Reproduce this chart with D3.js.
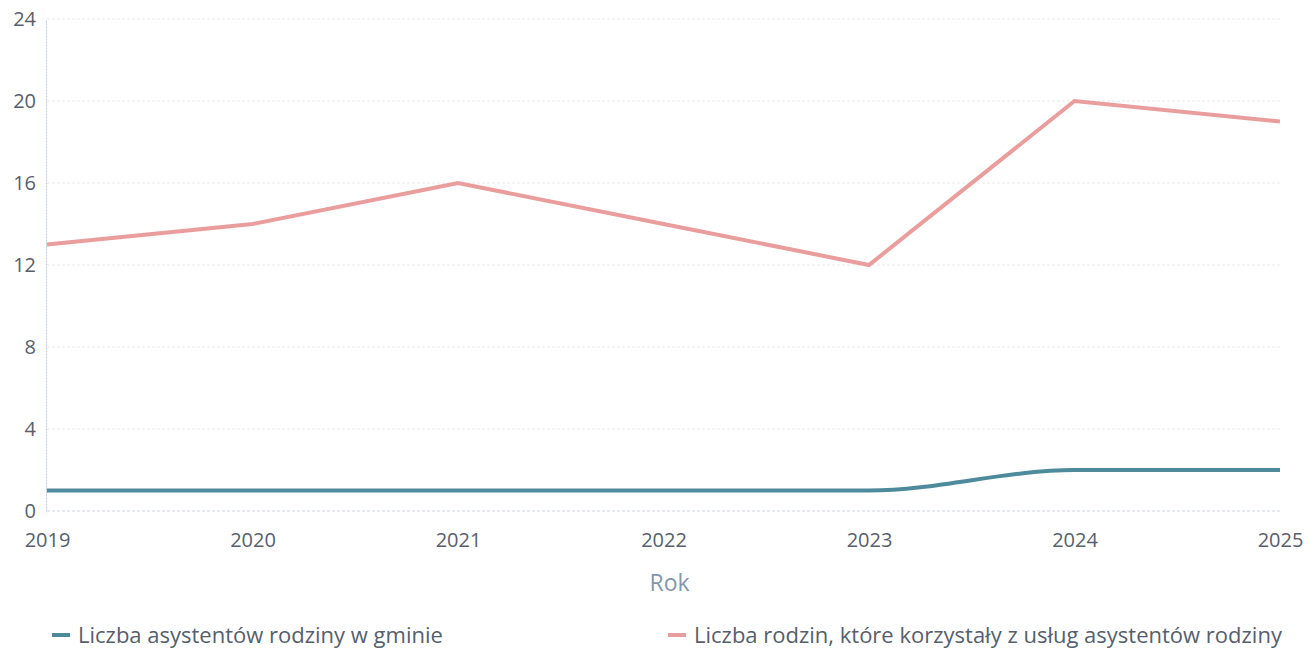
<!DOCTYPE html>
<html>
<head>
<meta charset="utf-8">
<script src="https://cdn.jsdelivr.net/npm/d3@7"></script>
<style>
	body { margin: 0; background: #fff; }
	svg { display: block; font-family: "Open Sans", sans-serif; }
</style>
</head>
<body>
<svg width="1316" height="650"></svg>
<script>
var years = [2019, 2020, 2021, 2022, 2023, 2024, 2025];
var assistants = [1, 1, 1, 1, 1, 2, 2];
var families = [13, 14, 16, 14, 12, 20, 19];
var yTicks = [0, 4, 8, 12, 16, 20, 24];
var seriesNames = [
	"Liczba asystentów rodziny w gminie",
	"Liczba rodzin, które korzystały z usług asystentów rodziny"
];
var seriesColors = ["#4d8a9c", "#ea9d9d"];

var svg = d3.select("svg"),
	margin = { left: 47, right: 36, top: 19, bottom: 139 },
	width = 1316,
	height = 650;

var x = d3
	.scalePoint()
	.domain(years)
	.range([margin.left, width - margin.right]);

var y = d3
	.scaleLinear()
	.domain([0, 24])
	.range([height - margin.bottom, margin.top]);

// grid
svg
	.append("g")
	.selectAll("line")
	.data(yTicks.filter((d) => d > 0))
	.enter()
	.append("line")
	.attr("x1", margin.left)
	.attr("x2", width - margin.right)
	.attr("y1", (d) => y(d))
	.attr("y2", (d) => y(d))
	.attr("stroke", "#e6e9ee")
	.attr("stroke-width", 1)
	.attr("stroke-dasharray", "3,2");

// left axis
var yAxis = svg
	.append("g")
	.attr("transform", "translate(" + (margin.left - 1) + ",0)")
	.call(d3.axisLeft(y).tickValues(yTicks).tickSize(0).tickPadding(10));
yAxis.select(".domain").attr("stroke", "#b9cde0").attr("stroke-dasharray", "2,1");
yAxis
	.selectAll("text")
	.attr("fill", "#58606b")
	.attr("font-size", 20)
	.attr("font-family", "Open Sans, sans-serif");

// bottom axis
var xAxis = svg
	.append("g")
	.attr("transform", "translate(0," + y(0) + ")")
	.call(d3.axisBottom(x).tickSize(0).tickPadding(22));
xAxis
	.select(".domain")
	.attr("stroke", "#cfd5de")
	.attr("stroke-dasharray", "3,2")
	.attr("d", "M" + margin.left + ",0H" + (width - margin.right));
xAxis
	.selectAll("text")
	.attr("fill", "#58606b")
	.attr("font-size", 20)
	.attr("font-family", "Open Sans, sans-serif");
xAxis.selectAll(".tick text").attr("dy", "0.71em");

svg
	.append("text")
	.attr("x", (margin.left + width - margin.right) / 2 + 6)
	.attr("y", 591)
	.attr("text-anchor", "middle")
	.attr("fill", "#8197ad")
	.attr("font-size", 23)
	.text("Rok");

// lines
var lineSmooth = d3
	.line()
	.x((d, i) => x(years[i]))
	.y((d) => y(d))
	.curve(d3.curveMonotoneX);
var lineStraight = d3
	.line()
	.x((d, i) => x(years[i]))
	.y((d) => y(d));

svg
	.append("path")
	.attr("d", lineStraight(families))
	.attr("fill", "none")
	.attr("stroke", seriesColors[1])
	.attr("stroke-width", 4)
	.attr("stroke-linejoin", "miter");

svg
	.append("path")
	.attr("d", lineSmooth(assistants))
	.attr("fill", "none")
	.attr("stroke", seriesColors[0])
	.attr("stroke-width", 4);

// legend
var legendX = [52, 668];
var legend = svg
	.selectAll(".legend")
	.data(seriesNames)
	.enter()
	.append("g")
	.attr("class", "legend")
	.attr("transform", (d, i) => "translate(" + legendX[i] + ",635)");
legend
	.append("line")
	.attr("x1", 0)
	.attr("x2", 18)
	.attr("stroke", (d, i) => seriesColors[i])
	.attr("stroke-width", 4);
legend
	.append("text")
	.attr("x", 26)
	.attr("dy", "0.35em")
	.attr("fill", "#56606c")
	.attr("font-size", 22)
	.text((d) => d);
</script>
</body>
</html>
